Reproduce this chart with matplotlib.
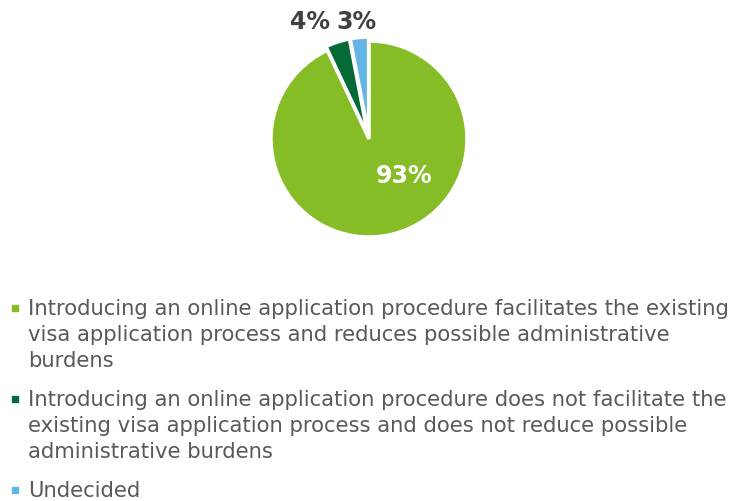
import matplotlib.pyplot as plt
from matplotlib.lines import Line2D

# data
labels = [
    ["Introducing an online application procedure facilitates the existing",
     "visa application process and reduces possible administrative",
     "burdens"],
    ["Introducing an online application procedure does not facilitate the",
     "existing visa application process and does not reduce possible",
     "administrative burdens"],
    ["Undecided"],
]
shares = [93, 4, 3]
pct_labels = ["93%", "4%", "3%"]
colors = ["#86BC25", "#046A38", "#62B5E5"]

W, H = 739, 502
fig = plt.figure(figsize=(W / 100, H / 100), dpi=100)

cx, cy, r = 369, 140, 98
ax = fig.add_axes([(cx - r) / W, (H - cy - r) / H, 2 * r / W, 2 * r / H])
wedges, _ = ax.pie(shares, colors=colors, startangle=90, counterclock=False,
                   explode=[0, 0.04, 0.04],
                   wedgeprops=dict(edgecolor="white", linewidth=2.5, clip_on=False))
ax.set_xlim(-1, 1)
ax.set_ylim(-1, 1)
ax.set_aspect("equal")
ax.axis("off")

# label positions (in pie radii) and colours
label_pos = [(0.36, -0.37), (-0.60, 1.20), (-0.13, 1.20)]
label_col = ["white", "#404040", "#404040"]
for txt, (x, y), c in zip(pct_labels, label_pos, label_col):
    ax.text(x, y, txt, ha="center", va="center", fontsize=17,
            fontweight="bold", color=c, clip_on=False)

# legend drawn by hand so the marker sits on the first line
line_h = 26
entry_gap = 13
y = 315  # baseline of the first line, px from top
for lines, c in zip(labels, colors):
    fig.add_artist(Line2D([15 / W], [1 - (y - 6) / H], marker="s",
                          markersize=5, markerfacecolor=c, markeredgecolor=c,
                          linestyle="none"))
    for ln in lines:
        fig.text(28 / W, 1 - y / H, ln, fontsize=15.2, color="#595959",
                 va="baseline", ha="left")
        y += line_h
    y += entry_gap

fig.savefig("out.png", dpi=100)
